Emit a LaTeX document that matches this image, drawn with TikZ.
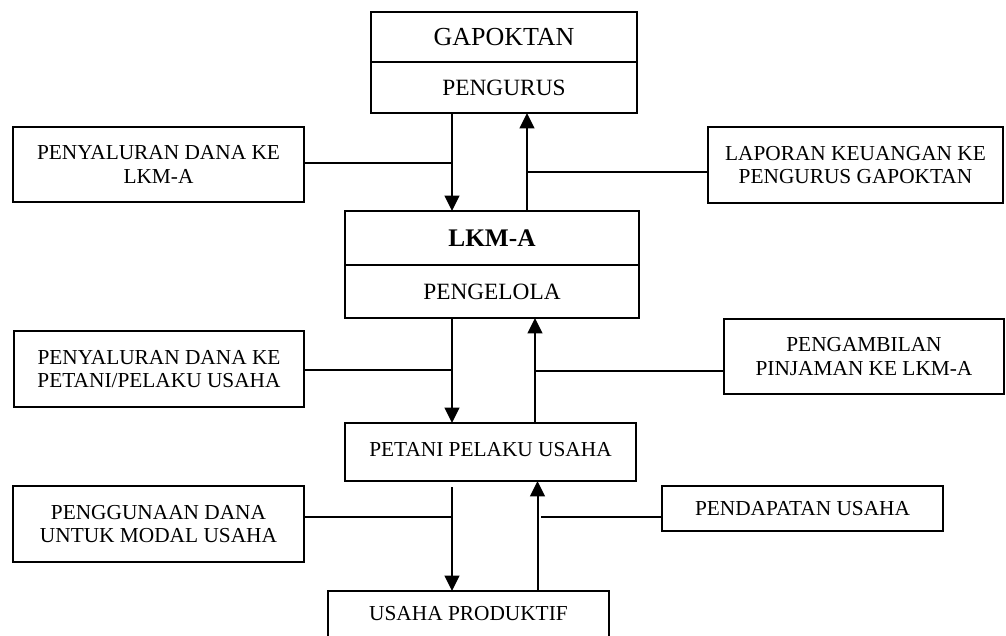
\documentclass[tikz,border=0pt]{standalone}
\usepackage{fontspec}
\setmainfont{Liberation Serif}
\usepackage{tikz}
\usetikzlibrary{arrows.meta,calc,positioning}
\tikzset{
	flow chart/.style={
		x=0.75pt, y=-0.75pt,
		node distance=0pt and 0pt,
		ar/.style={-{Triangle[length=11.5pt,width=11pt]}, line width=1.5pt},
		link/.style={line width=1pt}
		},
	box/.code 2 args={
		\pgfmathsetlengthmacro{\boxw}{#1*0.75pt}
		\pgfmathsetlengthmacro{\boxh}{#2*0.75pt}
		\pgfkeysalso{draw, line width=1.5pt, outer sep=0pt, inner sep=0pt,
			minimum width=\boxw, minimum height=\boxh, align=center,
			font=\fontsize{16}{17.5}\selectfont}
	},
	big/.style={font=\fontsize{#1}{#1}\selectfont},
	big/.default=17.5
}

\begin{document}
\begin{tikzpicture}[flow chart]
	\useasboundingbox (0,0) rectangle (1006,635);
	\coordinate (dn) at (452,0);
	\coordinate (upA) at (527,0);
	\coordinate (upB) at (535,0);
	\coordinate (upC) at (537.5,0);
	\node[box={266}{50}, big=19.5] (gapoktan) at (504,37) {GAPOKTAN};
	\node[box={266}{51}, big, below=of gapoktan] (pengurus) {PENGURUS};
	\node[box={294}{54}, big=19] (lkma) at (492,238) {\bfseries LKM-A};
	\node[box={294}{53}, big, below=of lkma] (pengelola) {PENGELOLA};
	\node[box={291}{58}] (petani) at (490.5,452) {\raisebox{4pt}{PETANI PELAKU USAHA}};
	\node[box={281}{46}] (usaha) at (468.5,614) {USAHA PRODUKTIF};
	\node[box={291}{75}] (salurA) at (158.5,164.5) {PENYALURAN DANA KE\\LKM-A};
	\node[box={295}{76}] (laporan) at (855.5,165) {LAPORAN KEUANGAN KE\\PENGURUS GAPOKTAN};
	\node[box={290}{76}] (salurB) at (159,369) {PENYALURAN DANA KE\\PETANI/PELAKU USAHA};
	\node[box={280}{75}] (pinjam) at (864,356.5) {PENGAMBILAN\\PINJAMAN KE LKM-A};
	\node[box={291}{76}] (modal) at (158.5,524) {PENGGUNAAN DANA\\UNTUK MODAL USAHA};
	\node[box={281}{45}] (pendapatan) at (802.5,508.5) {PENDAPATAN USAHA};
	\draw[ar] (pengurus.south -| dn) -- (lkma.north -| dn);
	\draw[ar] (lkma.north -| upA) -- (pengurus.south -| upA);
	\draw[link] ($(salurA.east)+(0,-1.5)$) -- ($(salurA.east -| dn)+(0,-1.5)$);
	\draw[link] ($(laporan.west -| upA)+(0,7)$) -- ($(laporan.west)+(0,7)$);
	\draw[ar] (pengelola.south -| dn) -- (petani.north -| dn);
	\draw[ar] (petani.north -| upB) -- (pengelola.south -| upB);
	\draw[link] ($(salurB.east)+(0,1)$) -- ($(salurB.east -| dn)+(0,1)$);
	\draw[link] ($(pinjam.west -| upB)+(0,14.5)$) -- ($(pinjam.west)+(0,14.5)$);
	\draw[ar] ($(petani.south -| dn)+(0,6)$) -- (usaha.north -| dn);
	\draw[ar] (usaha.north -| upC) -- (petani.south -| upC);
	\draw[link] ($(modal.east)+(0,-7)$) -- ($(modal.east -| dn)+(0,-7)$);
	\draw[link] ($(pendapatan.west -| upC)+(3.5,8.5)$) -- ($(pendapatan.west)+(0,8.5)$);
\end{tikzpicture}
\end{document}
